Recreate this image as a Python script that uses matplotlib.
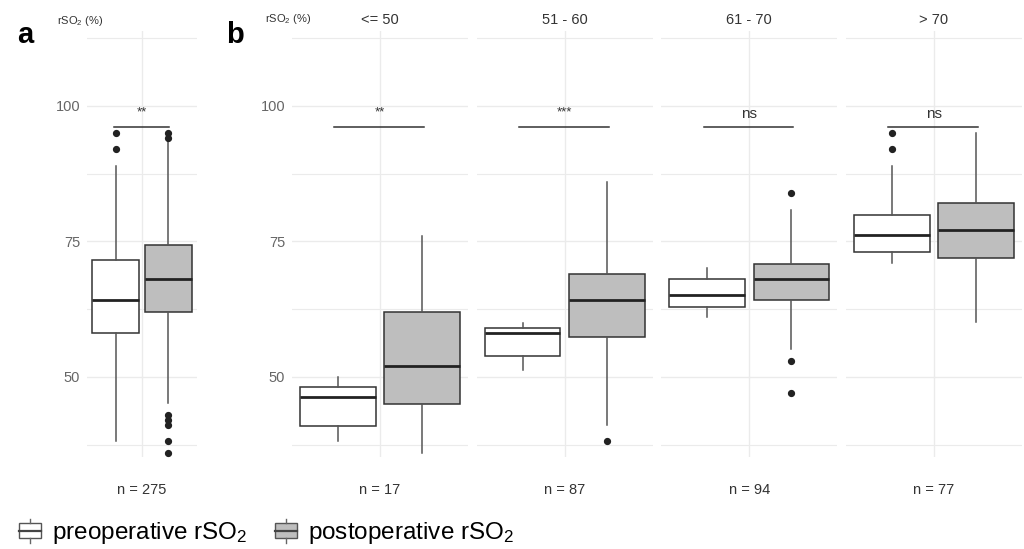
import matplotlib.pyplot as plt
from matplotlib.patches import Rectangle, Patch
from matplotlib.lines import Line2D
from matplotlib.legend_handler import HandlerBase

plt.rcParams['font.family'] = ['Liberation Sans', 'DejaVu Sans']
plt.rcParams['mathtext.fontset'] = 'custom'
plt.rcParams['mathtext.rm'] = 'Liberation Sans'
plt.rcParams['mathtext.it'] = 'Liberation Sans:italic'

# overall + 4 rSO2 groups
groups = ['<= 50', '51 - 60', '61 - 70', '> 70']
n_all = 275
n_groups = [17, 87, 94, 77]
sig_all = '**'
sig_groups = ['**', '***', 'ns', 'ns']

# preoperative: [overall, <=50, 51-60, 61-70, >70]
pre_q1 = [58.1, 41.0, 53.9, 62.9, 73.1]
pre_med = [64.2, 46.3, 58.1, 65.1, 76.1]
pre_q3 = [71.6, 48.1, 59.0, 68.0, 79.8]
pre_lo = [38.2, 38.2, 51.2, 61.1, 71.0]
pre_hi = [88.9, 50.0, 60.0, 70.0, 88.9]
pre_out = [[95.0, 92.0], [], [], [], [95.0, 92.0]]

# postoperative
post_q1 = [62.0, 45.0, 57.4, 64.1, 71.9]
post_med = [68.1, 52.0, 64.1, 68.1, 77.1]
post_q3 = [74.4, 61.9, 68.9, 70.8, 82.0]
post_lo = [45.2, 36.0, 41.1, 55.2, 60.1]
post_hi = [93.5, 76.0, 85.9, 80.8, 95.0]
post_out = [[95.0, 94.1, 43.0, 42.1, 41.1, 38.1, 35.9], [], [38.1],
            [84.0, 52.9, 47.1], []]

pre_color = 'white'
post_color = '#BEBEBE'
edge = '#333333'
grid_c = '#EBEBEB'
ylim = (35.2, 113.8)
off = 0.239
bw = 0.43


def stats(i, q1, med, q3, lo, hi, out):
    return dict(q1=q1[i], med=med[i], q3=q3[i], whislo=lo[i], whishi=hi[i],
                fliers=out[i])


def draw_panel(ax, i, nlab, sig, ylabels):
    ax.set_xlim(-0.5, 0.5)
    ax.set_ylim(*ylim)
    for s in ax.spines.values():
        s.set_visible(False)
    ax.set_yticks([50, 75, 100])
    ax.set_yticks([37.5, 62.5, 87.5, 112.5], minor=True)
    ax.set_xticks([0])
    ax.set_xticklabels([nlab])
    ax.grid(True, which='major', color=grid_c, lw=1.0)
    ax.grid(True, which='minor', axis='y', color=grid_c, lw=0.8)
    ax.set_axisbelow(True)
    ax.tick_params(which='both', length=0)
    ax.tick_params(axis='x', pad=19, labelsize=10.5, labelcolor='#333333')
    ax.tick_params(axis='y', pad=5, labelsize=10.5, labelcolor='#666666')
    if not ylabels:
        ax.set_yticklabels([])
    for st, pos, fc in [(stats(i, pre_q1, pre_med, pre_q3, pre_lo, pre_hi, pre_out), -off, pre_color),
                        (stats(i, post_q1, post_med, post_q3, post_lo, post_hi, post_out), off, post_color)]:
        ax.bxp([st], positions=[pos], widths=bw, showcaps=False, patch_artist=True,
               boxprops=dict(facecolor=fc, edgecolor=edge, lw=1.1),
               whiskerprops=dict(color='#555555', lw=1.1),
               medianprops=dict(color='#222222', lw=2.0),
               flierprops=dict(marker='o', markersize=4.2, markerfacecolor='#222222',
                               markeredgecolor='#222222'),
               manage_ticks=False)
    ax.plot([-off - 0.02, off + 0.01], [96, 96], color='#333333', lw=1.1)
    if sig == 'ns':
        ax.text(0, 97.2, sig, ha='center', va='bottom', fontsize=11, color='#333333')
    else:
        ax.text(0, 97.6, sig, ha='center', va='bottom', fontsize=9.5, color='#333333')


class BoxHandler(HandlerBase):
    def create_artists(self, legend, orig_handle, xdescent, ydescent, width, height,
                       fontsize, trans):
        x0, y0 = -xdescent, -ydescent
        cx = x0 + width / 2
        fc = orig_handle.get_facecolor()
        rect = Rectangle((x0 + width * 0.05, y0 + height * 0.15), width * 0.9, height * 0.7,
                         facecolor=fc, edgecolor='#555555', lw=1.0, transform=trans)
        med = Line2D([x0 + width * 0.05, x0 + width * 0.95], [y0 + height * 0.5] * 2,
                     color='#444444', lw=1.6, transform=trans)
        w1 = Line2D([cx, cx], [y0 - height * 0.05, y0 + height * 0.15], color='#666666', lw=1.0,
                    transform=trans)
        w2 = Line2D([cx, cx], [y0 + height * 0.85, y0 + height * 1.05], color='#666666', lw=1.0,
                    transform=trans)
        return [rect, med, w1, w2]


fig = plt.figure(figsize=(10.24, 5.49), dpi=100)
W, H = 1024, 549
top_px, bot_px = 31, 457

ax_a = fig.add_axes([87 / W, 1 - bot_px / H, 110 / W, (bot_px - top_px) / H])
draw_panel(ax_a, 0, 'n = %d' % n_all, sig_all, True)

lefts = [292, 476.7, 661.3, 846]
for k in range(4):
    ax = fig.add_axes([lefts[k] / W, 1 - bot_px / H, 176 / W, (bot_px - top_px) / H])
    draw_panel(ax, k + 1, 'n = %d' % n_groups[k], sig_groups[k], k == 0)
    ax.set_title(groups[k], fontsize=10.5, color='#333333', pad=5)

fig.text(57 / W, 1 - 21 / H, 'rSO$_2$ (%)', fontsize=8, color='#333333', ha='left', va='center')
fig.text(265 / W, 1 - 19 / H, 'rSO$_2$ (%)', fontsize=8, color='#333333', ha='left', va='center')
fig.text(17 / W, 1 - 43 / H, 'a', fontsize=21, fontweight='bold', ha='left', va='baseline')
fig.text(226 / W, 1 - 43 / H, 'b', fontsize=21, fontweight='bold', ha='left', va='baseline')

handles = [Patch(facecolor=pre_color), Patch(facecolor=post_color)]
fig.legend(handles, ['preoperative rSO$_2$', 'postoperative rSO$_2$'],
           handler_map={Patch: BoxHandler()}, loc='center left',
           bbox_to_anchor=(18 / W, 1 - 533 / H), ncol=2, frameon=False, fontsize=17.5,
           handlelength=1.0, handleheight=1.0, handletextpad=0.4, columnspacing=1.1,
           borderpad=0, borderaxespad=0)

fig.savefig('out.png', dpi=100)
